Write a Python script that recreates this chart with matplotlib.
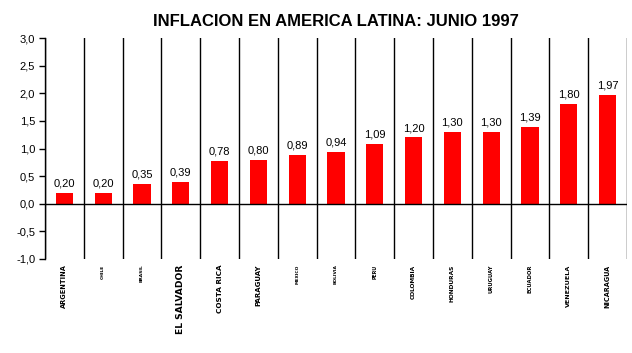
import matplotlib
matplotlib.use('Agg')
import matplotlib.pyplot as plt

# datos
paises = ['ARGENTINA', 'CHILE', 'BRASIL', 'EL SALVADOR', 'COSTA RICA', 'PARAGUAY',
          'MEXICO', 'BOLIVIA', 'PERU', 'COLOMBIA', 'HONDURAS', 'URUGUAY',
          'ECUADOR', 'VENEZUELA', 'NICARAGUA']
inflacion = [0.20, 0.20, 0.35, 0.39, 0.78, 0.80, 0.89, 0.94, 1.09, 1.20,
             1.30, 1.30, 1.39, 1.80, 1.97]
yticks = [-1.0, -0.5, 0.0, 0.5, 1.0, 1.5, 2.0, 2.5, 3.0]

# tamaño de letra de cada etiqueta (como en el original, cada una distinta)
tam_etiquetas = [4.8, 3.2, 3.2, 6.6, 5.2, 5.0, 3.2, 3.2, 3.4, 4.2, 4.2, 3.8, 3.8, 4.6, 4.7]

fig = plt.figure(figsize=(6.32, 3.53), dpi=100)
ax = fig.add_axes([45 / 632, (353 - 259) / 353, 582 / 632, 221 / 353])

x = list(range(len(paises)))
ax.bar(x, inflacion, width=0.44, color='#ff0000', zorder=3)

for xi, v in zip(x, inflacion):
    ax.text(xi, v + 0.08, f'{v:.2f}'.replace('.', ','), ha='center', va='bottom',
            fontsize=8, family='Liberation Sans')

# lineas verticales entre categorias
for i in range(len(paises) + 1):
    ax.axvline(i - 0.5, color='black', lw=1, zorder=2)
ax.axhline(0, color='black', lw=1, zorder=4)

ax.set_xlim(-0.5, len(paises) - 0.5)
ax.set_ylim(-1.0, 3.0)
ax.set_yticks(yticks)
ax.set_yticklabels([f'{t:.1f}'.replace('.', ',') for t in yticks],
                   fontsize=8, family='Liberation Sans')
ax.tick_params(axis='y', length=4, width=1, pad=3)
ax.set_xticks([])
for s in ['top', 'right', 'bottom']:
    ax.spines[s].set_visible(False)
ax.spines['left'].set_linewidth(1)

for xi, nombre, t in zip(x, paises, tam_etiquetas):
    ax.text(xi, -0.025, nombre, rotation=90, ha='center', va='top', fontsize=t,
            fontweight='bold', family='DejaVu Sans',
            transform=ax.get_xaxis_transform(), clip_on=False)

fig.text(336 / 632, 1 - 22 / 353, 'INFLACION EN AMERICA LATINA: JUNIO 1997',
         ha='center', va='center', fontsize=12, fontweight='bold',
         family='Liberation Sans')

fig.savefig('out.png', dpi=100)
